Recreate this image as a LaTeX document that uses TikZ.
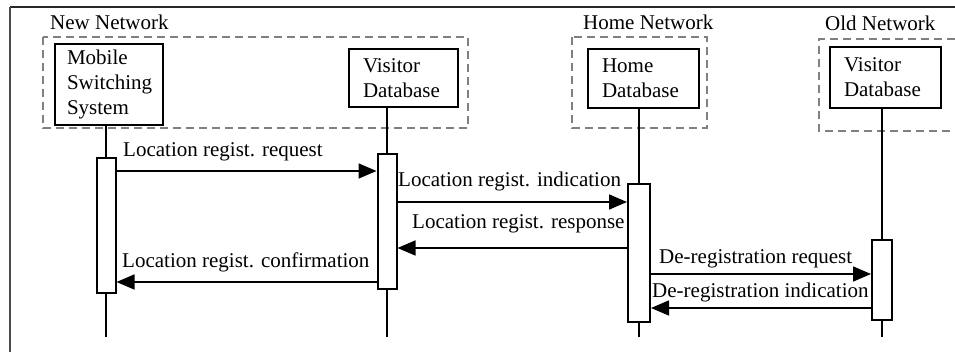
\documentclass[tikz,border=0pt]{standalone}
\usepackage{fontspec}
\setmainfont{Liberation Serif}
\usetikzlibrary{arrows.meta}
\begin{document}
\begin{tikzpicture}[x=1pt,y=-1pt,
  every node/.style={font=\fontsize{21}{25}\selectfont},
  entity/.style={draw=black, line width=2pt, align=left, inner ysep=0pt},
  act/.style={draw=black, fill=white, line width=2pt, minimum width=19, inner sep=0pt},
  lifeline/.style={draw=black, line width=1.6pt},
  group/.style={draw=black!50, line width=2pt, dash pattern=on 8pt off 5pt},
  msg/.style={draw=black, line width=1.6pt, -{Triangle[length=18pt,width=15pt]}},
  lbl/.style={inner sep=0pt, anchor=base west}]
\useasboundingbox (0,0) rectangle (955,352);
\fill[white] (0,0) rectangle (955,352);

% outer frame (top and left edges)
\draw[black!85, line width=2pt] (10,7) -- (955,7);
\draw[black!70, line width=1.5pt] (10,7) -- (10,352);

% network groupings
\draw[group] (43,37) rectangle (468,128);
\draw[group] (572,37) rectangle (707,128);
\draw[group] (955,39) -- (819,39) -- (819,131) -- (955,131);
\node[lbl] (newnet) at (50,30) {New Network};
\node[lbl] (homenet) at (583,30) {Home Network};
\node[lbl] (oldnet) at (825,31) {Old Network};

% entities
\node[entity, anchor=north west, text width=84, inner xsep=12, minimum height=81] (mss) at (54,43) {Mobile\\Switching\\System};
\node[entity, anchor=north west, text width=81, inner xsep=14, minimum height=58] (vdb) at (348,48) {Visitor\\Database};
\node[entity, anchor=north west, text width=83, inner xsep=14, minimum height=59] (hdb) at (587,48) {Home\\Database};
\node[entity, anchor=north west, text width=83, inner xsep=14, minimum height=61] (odb) at (829,46) {Visitor\\Database};

% lifelines
\coordinate (mssend) at (106,337);
\coordinate (vdbend) at (387,337);
\coordinate (hdbend) at (639,337);
\coordinate (odbend) at (882,337);
\draw[lifeline] (mss.south -| mssend) -- (mssend);
\draw[lifeline] (vdb.south -| vdbend) -- (vdbend);
\draw[lifeline] (hdb.south -| hdbend) -- (hdbend);
\draw[lifeline] (odb.south -| odbend) -- (odbend);

% activation bars
\node[act, anchor=north, minimum height=135] (mssact) at (106,157) {};
\node[act, anchor=north, minimum height=135] (vdbact) at (387,153) {};
\node[act, anchor=north, minimum height=138, minimum width=22] (hdbact) at (639,183) {};
\node[act, anchor=north, minimum height=80, minimum width=20] (odbact) at (882,239) {};

% messages
\draw[msg] ([yshift=-14]mssact.north east) -- ([yshift=-18]vdbact.north west);
\draw[msg] ([yshift=-49]vdbact.north east) -- ([yshift=-19]hdbact.north west);
\draw[msg] ([yshift=-65]hdbact.north west) -- ([yshift=-95]vdbact.north east);
\draw[msg] ([yshift=-129]vdbact.north west) -- ([yshift=-125]mssact.north east);
\draw[msg] ([yshift=-91]hdbact.north east) -- ([yshift=-35]odbact.north west);
\draw[msg] ([yshift=-69]odbact.north west) -- ([yshift=-125]hdbact.north east);

% message labels
\node[lbl] (m1) at (123,157) {Location regist. request};
\node[lbl] (m2) at (398,187) {Location regist. indication};
\node[lbl] (m3) at (412,229) {Location regist. response};
\node[lbl] (m4) at (122,268) {Location regist. confirmation};
\node[lbl] (m5) at (659,264) {De-registration request};
\node[lbl] (m6) at (652,298) {De-registration indication};
\end{tikzpicture}
\end{document}
